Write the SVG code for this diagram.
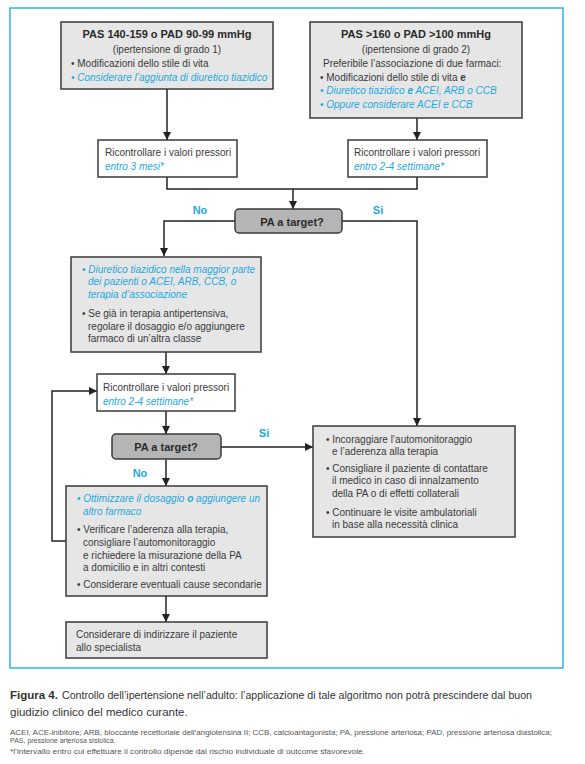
<svg xmlns="http://www.w3.org/2000/svg" width="585" height="764" viewBox="0 0 585 764">
<style>
text{font-family:"Liberation Sans",Arial,sans-serif;fill:#3a3a3a;font-size:10px}
.b{font-weight:bold}
.t{font-size:11px;font-weight:bold;fill:#2a2a2a}
.bl{fill:#1ea8e0;font-style:italic}
.lab{fill:#1ea8e0;font-weight:bold;font-size:11px}
.box{fill:#e6e6e6;stroke:#3a3a3a;stroke-width:1.5}
.wbox{fill:#ffffff;stroke:#3a3a3a;stroke-width:1.5}
.dec{fill:#b5b5b5;stroke:#3a3a3a;stroke-width:1.5}
.ln{fill:none;stroke:#222;stroke-width:1.5}
.cap{font-size:11.5px;fill:#333}
.sm{font-size:7px;fill:#555}
</style>
<defs>
<marker id="ah" markerUnits="userSpaceOnUse" markerWidth="8" markerHeight="8" refX="8" refY="4" orient="auto">
<path d="M0,0 L8,4 L0,8 z" fill="#222"/>
</marker>
</defs>
<rect x="10" y="8" width="553" height="660" fill="none" stroke="#2cb5e8" stroke-width="1.5"/>

<g id="connectors">
<path class="ln" d="M167,89 V140" marker-end="url(#ah)"/>
<path class="ln" d="M417,118 V140" marker-end="url(#ah)"/>
<path class="ln" d="M167,177 V189 H417 V177"/>
<path class="ln" d="M293,189 V209" marker-end="url(#ah)"/>
<path class="ln" d="M235,221 H164 V256" marker-end="url(#ah)"/>
<path class="ln" d="M342,221 H417 V426" marker-end="url(#ah)"/>
<path class="ln" d="M166,352 V374" marker-end="url(#ah)"/>
<path class="ln" d="M166,411 V434" marker-end="url(#ah)"/>
<path class="ln" d="M221,447 H313" marker-end="url(#ah)"/>
<path class="ln" d="M166,459 V486" marker-end="url(#ah)"/>
<path class="ln" d="M66,541 H52 V391 H97" marker-end="url(#ah)"/>
<path class="ln" d="M166,596 V622" marker-end="url(#ah)"/>
<text class="lab" x="200" y="214" text-anchor="middle">No</text>
<text class="lab" x="378" y="214" text-anchor="middle">Si</text>
<text class="lab" x="264" y="437" text-anchor="middle">Si</text>
<text class="lab" x="140" y="477" text-anchor="middle">No</text>
</g>

<g id="grade1">
<rect class="box" x="61" y="22" width="212" height="67"/>
<text class="t" x="167" y="38" text-anchor="middle">PAS 140-159 o PAD 90-99 mmHg</text>
<text x="167" y="53" text-anchor="middle" font-size="11">(ipertensione di grado 1)</text>
<text x="71" y="67">• Modificazioni dello stile di vita</text>
<text class="bl" x="71" y="81">• Considerare l’aggiunta di diuretico tiazidico</text>
</g>

<g id="grade2">
<rect class="box" x="310" y="22" width="212" height="96"/>
<text class="t" x="416" y="38" text-anchor="middle">PAS &gt;160 o PAD &gt;100 mmHg</text>
<text x="416" y="53" text-anchor="middle" font-size="11">(ipertensione di grado 2)</text>
<text x="323" y="67">Preferibile l’associazione di due farmaci:</text>
<text x="320" y="81">• Modificazioni dello stile di vita <tspan class="b">e</tspan></text>
<text class="bl" x="320" y="94">• Diuretico tiazidico <tspan class="b">e</tspan> ACEI, ARB o CCB</text>
<text class="bl" x="320" y="108">• Oppure considerare ACEI e CCB</text>
</g>

<g id="recheck1">
<rect class="wbox" x="98" y="140" width="139" height="37"/>
<text x="105" y="156">Ricontrollare i valori pressori</text>
<text class="bl" x="105" y="170">entro 3 mesi*</text>
</g>

<g id="recheck2">
<rect class="wbox" x="348" y="140" width="139" height="37"/>
<text x="354" y="156">Ricontrollare i valori pressori</text>
<text class="bl" x="354" y="170">entro 2-4 settimane*</text>
</g>

<g id="target1">
<rect class="dec" x="235" y="209" width="107" height="24" rx="4"/>
<text class="t" x="292" y="226" text-anchor="middle">PA a target?</text>
</g>

<g id="therapy">
<rect class="box" x="71" y="257" width="190" height="95"/>
<text class="bl" x="82" y="273">• Diuretico tiazidico nella maggior parte</text>
<text class="bl" x="88" y="285">dei pazienti o ACEI, ARB, CCB, o</text>
<text class="bl" x="88" y="298">terapia d’associazione</text>
<text x="82" y="317">• Se già in terapia antipertensiva,</text>
<text x="88" y="330">regolare il dosaggio e/o aggiungere</text>
<text x="88" y="342">farmaco di un’altra classe</text>
</g>

<g id="recheck3">
<rect class="wbox" x="97" y="374" width="138" height="37"/>
<text x="103" y="391">Ricontrollare i valori pressori</text>
<text class="bl" x="103" y="405">entro 2-4 settimane*</text>
</g>

<g id="target2">
<rect class="dec" x="112" y="434" width="109" height="25" rx="4"/>
<text class="t" x="166" y="451" text-anchor="middle">PA a target?</text>
</g>

<g id="atarget">
<rect class="box" x="313" y="426" width="202" height="111"/>
<text x="326" y="443">• Incoraggiare l’automonitoraggio</text>
<text x="332" y="455">e l’aderenza alla terapia</text>
<text x="326" y="472">• Consigliare il paziente di contattare</text>
<text x="332" y="484">il medico in caso di innalzamento</text>
<text x="332" y="497">della PA o di effetti collaterali</text>
<text x="326" y="516">• Continuare le visite ambulatoriali</text>
<text x="332" y="528">in base alla necessità clinica</text>
</g>

<g id="optimize">
<rect class="box" x="66" y="486" width="201" height="110"/>
<text class="bl" x="77" y="502">• Ottimizzare il dosaggio <tspan class="b">o</tspan>  aggiungere un</text>
<text class="bl" x="83" y="515">altro farmaco</text>
<text x="77" y="533">• Verificare l’aderenza alla terapia,</text>
<text x="83" y="546">consigliare l’automonitoraggio</text>
<text x="83" y="559">e richiedere la misurazione della PA</text>
<text x="83" y="571">a domicilio e in altri contesti</text>
<text x="77" y="588">• Considerare eventuali cause secondarie</text>
</g>

<g id="specialist">
<rect class="box" x="66" y="622" width="201" height="36"/>
<text x="76" y="638">Considerare di indirizzare il paziente</text>
<text x="76" y="651">allo specialista</text>
</g>

<g id="caption">
<text class="cap b" x="10" y="699">Figura 4.</text>
<text class="cap" x="62" y="699" textLength="470" lengthAdjust="spacingAndGlyphs">Controllo dell’ipertensione nell’adulto: l’applicazione di tale algoritmo non potrà prescindere dal buon</text>
<text class="cap" x="10" y="716">giudizio clinico del medico curante.</text>
<text class="sm" x="10" y="735" textLength="542" lengthAdjust="spacingAndGlyphs">ACEI, ACE-inibitore; ARB, bloccante recettoriale dell’angiotensina II; CCB, calcioantagonista; PA, pressione arteriosa; PAD, pressione arteriosa diastolica;</text>
<text class="sm" x="10" y="743">PAS, pressione arteriosa sistolica.</text>
<text class="sm" x="10" y="754" textLength="355" lengthAdjust="spacingAndGlyphs">*l’intervallo entro cui effettuare il controllo dipende dal rischio individuale di outcome sfavorevole.</text>
</g>
</svg>
